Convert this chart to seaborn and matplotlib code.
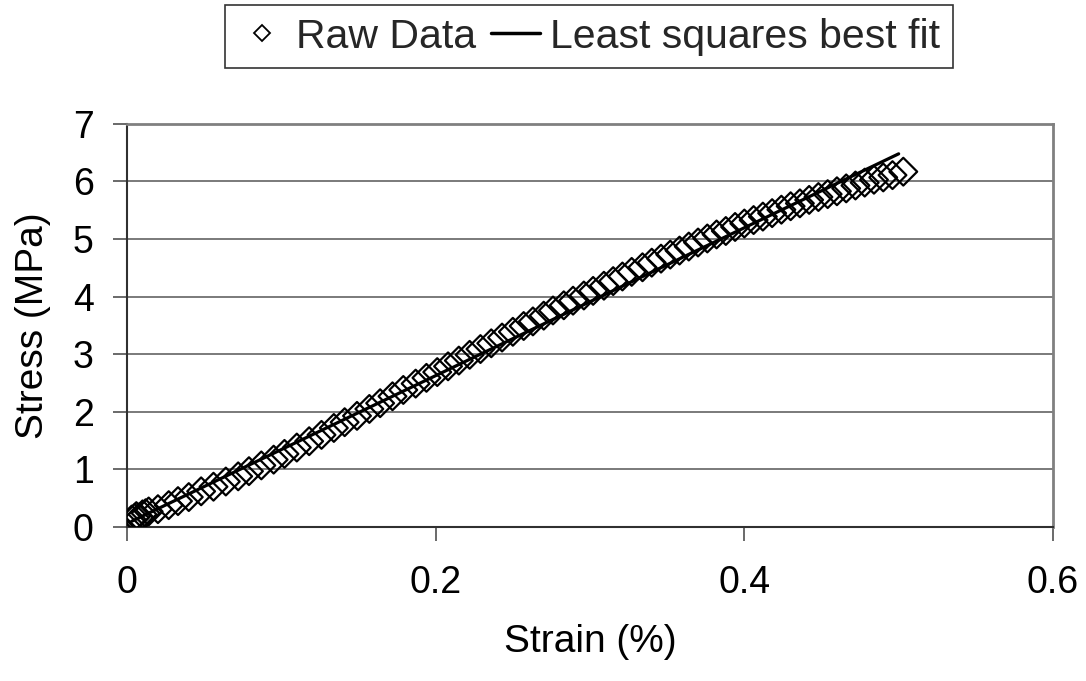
import matplotlib
matplotlib.use("Agg")
import matplotlib.pyplot as plt
import seaborn as sns
import pandas as pd
from matplotlib.lines import Line2D

# ---- data ----
strain = [0.003, 0.005, 0.006, 0.008, 0.010, 0.012, 0.014, 0.020, 0.027, 0.033,
          0.040, 0.048, 0.056, 0.064, 0.072, 0.079, 0.087, 0.095, 0.102, 0.110,
          0.118, 0.126, 0.134, 0.141, 0.149, 0.157, 0.164, 0.172, 0.179, 0.187,
          0.194, 0.201, 0.208, 0.215, 0.222, 0.229, 0.236, 0.243, 0.250, 0.257,
          0.263, 0.270, 0.276, 0.283, 0.289, 0.296, 0.302, 0.309, 0.315, 0.321,
          0.327, 0.334, 0.340, 0.346, 0.352, 0.358, 0.364, 0.370, 0.376, 0.382,
          0.388, 0.394, 0.400, 0.406, 0.412, 0.418, 0.424, 0.430, 0.436, 0.442,
          0.448, 0.454, 0.460, 0.466, 0.472, 0.478, 0.484, 0.490, 0.496, 0.503]
stress = [0.13, 0.16, 0.19, 0.17, 0.22, 0.24, 0.27, 0.31, 0.38, 0.45,
          0.52, 0.62, 0.70, 0.79, 0.88, 0.97, 1.07, 1.17, 1.27, 1.38,
          1.49, 1.60, 1.72, 1.82, 1.93, 2.05, 2.15, 2.27, 2.38, 2.49,
          2.59, 2.69, 2.79, 2.89, 2.99, 3.09, 3.19, 3.29, 3.39, 3.49,
          3.57, 3.67, 3.76, 3.85, 3.93, 4.02, 4.10, 4.19, 4.27, 4.35,
          4.43, 4.51, 4.59, 4.66, 4.73, 4.80, 4.87, 4.94, 5.01, 5.08,
          5.14, 5.21, 5.27, 5.33, 5.39, 5.45, 5.51, 5.57, 5.62, 5.68,
          5.73, 5.78, 5.83, 5.88, 5.93, 5.98, 6.03, 6.07, 6.11, 6.17]
fit_strain = [0.003, 0.500]
fit_stress = [0.10, 6.48]

x_ticks = [0, 0.2, 0.4, 0.6]
x_tick_labels = ["0", "0.2", "0.4", "0.6"]
y_ticks = [0, 1, 2, 3, 4, 5, 6, 7]

raw_df = pd.DataFrame({"Strain": strain, "Stress": stress})
fit_df = pd.DataFrame({"Strain": fit_strain, "Stress": fit_stress})

sns.set_theme(style="white")
plt.rcParams["font.family"] = ["Liberation Sans", "DejaVu Sans"]

fig = plt.figure(figsize=(10.86, 6.81), dpi=100)
ax = fig.add_axes([0.117, 0.2261, 0.8526, 0.592])

sns.scatterplot(data=raw_df, x="Strain", y="Stress", ax=ax, marker="D", s=200,
                facecolor="none", edgecolor="black", linewidth=1.6, zorder=3,
                legend=False)
sns.lineplot(data=fit_df, x="Strain", y="Stress", ax=ax, color="black",
             linewidth=2.3, zorder=4, legend=False, estimator=None)

ax.set_xlim(0, 0.6)
ax.set_ylim(0, 7)
ax.set_xticks(x_ticks)
ax.set_xticklabels(x_tick_labels)
ax.set_yticks(y_ticks)

ax.yaxis.grid(True, color="#707070", linewidth=1.3)
ax.xaxis.grid(False)
ax.set_axisbelow(True)

for side in ["top", "right"]:
    ax.spines[side].set_color("#808080")
    ax.spines[side].set_linewidth(2)
for side in ["left", "bottom"]:
    ax.spines[side].set_color("#303030")
    ax.spines[side].set_linewidth(1.5)

ax.tick_params(axis="both", direction="out", length=10, width=1.2,
               color="#505050", labelsize=27, labelcolor="black")
ax.tick_params(axis="x", pad=17, bottom=True)
ax.tick_params(axis="y", pad=14, left=True)

ax.set_xlabel("Strain (%)", fontsize=28, labelpad=17, color="black")
ax.set_ylabel("Stress (MPa)", fontsize=28, labelpad=16, color="black")

handles = [Line2D([], [], marker="D", linestyle="none", markerfacecolor="none",
                  markeredgecolor="black", markersize=8.5, markeredgewidth=1.3),
           Line2D([], [], color="black", linewidth=2.5)]
leg = fig.legend(handles, ["Raw Data", "Least squares best fit"], loc="center",
                 bbox_to_anchor=(0.542, 0.946), ncol=2, fontsize=29.5,
                 frameon=True, fancybox=False, shadow=False,
                 handlelength=1.2, handletextpad=0.25, columnspacing=0.35,
                 borderpad=0.3, borderaxespad=0)
leg.get_frame().set_edgecolor("black")
leg.get_frame().set_linewidth(1.2)

fig.savefig("out.png", dpi=100, facecolor="white")
